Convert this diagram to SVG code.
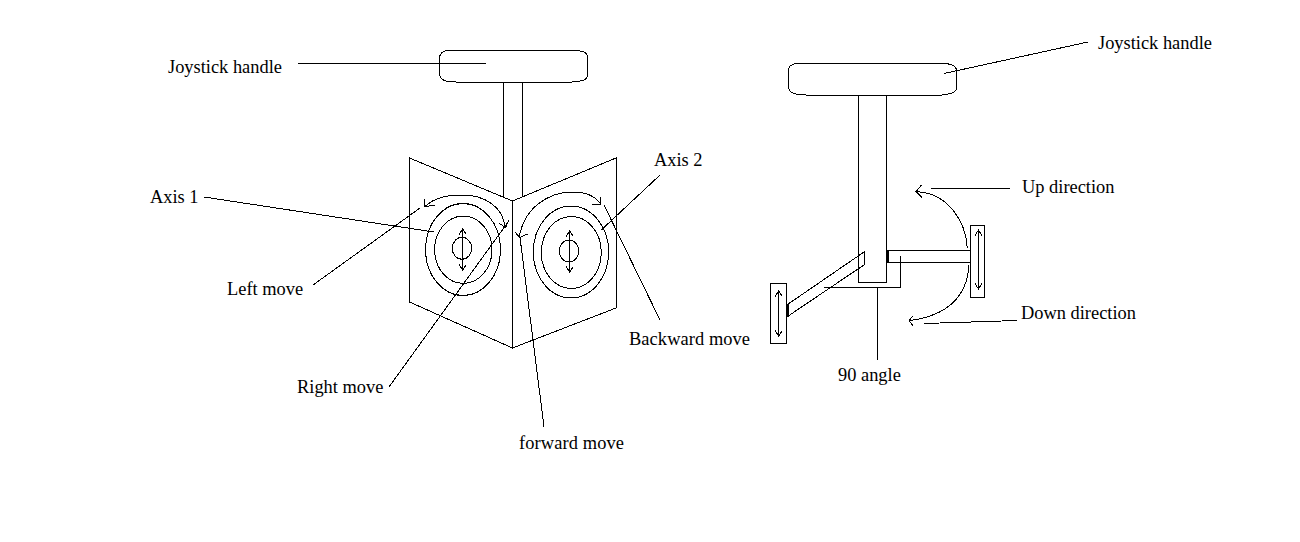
<svg xmlns="http://www.w3.org/2000/svg" width="1300" height="542" viewBox="0 0 1300 542">
<style>
.s{fill:none;stroke:#000;stroke-width:1;shape-rendering:crispEdges}
.p{fill:#fff;stroke:#000;stroke-width:1;shape-rendering:crispEdges}
.t{fill:none;stroke:#000;stroke-width:2;shape-rendering:crispEdges}
text{font-family:"Liberation Serif","Times New Roman",serif;font-size:18.4px;fill:#000}
</style>
<defs>
<marker id="open" viewBox="-8 -5 10 10" refX="0" refY="0" markerWidth="10" markerHeight="10" markerUnits="userSpaceOnUse" orient="auto-start-reverse"><path d="M-5.5,-3.5 L0,0 L-5.5,3.5" fill="none" stroke="#000" stroke-width="1" shape-rendering="crispEdges"/></marker>
</defs>
<rect width="1300" height="542" fill="#fff"/>

<g id="left-stem"><path class="s" d="M503.5,81V198M522.5,81V197"/></g>
<g id="left-handle"><path class="p" d="M447,50.5H576C583,51 587.5,52 587.5,58V75C587.5,80 583,81 572,82H456C445,82 439.5,80 439.5,73V59C439.5,53 442,51 447,50.5Z"/></g>
<g id="left-panel"><path class="s" d="M409.5,158L512.5,201V348L409.5,302Z"/></g>
<g id="right-panel"><path class="s" d="M512.5,201L616,158V308L512.5,348"/></g>
<g id="axis1-dial">
<ellipse class="s" cx="463" cy="249.5" rx="37.5" ry="46"/>
<ellipse class="s" cx="463.3" cy="249.7" rx="28.7" ry="33.7"/>
<ellipse class="s" cx="462" cy="248.3" rx="9.7" ry="11"/>
<path class="s" d="M462.7,229V270" marker-start="url(#open)" marker-end="url(#open)"/>
</g>
<g id="axis2-dial">
<ellipse class="s" cx="571" cy="252" rx="37.7" ry="46"/>
<ellipse class="s" cx="571.3" cy="252.5" rx="30" ry="36"/>
<ellipse class="s" cx="569" cy="251" rx="9.7" ry="11"/>
<path class="s" d="M569.7,231V272" marker-start="url(#open)" marker-end="url(#open)"/>
</g>
<g id="axis1-rotation"><path class="s" d="M425.7,206C434,198 448,195 462,195C485,195 503,207 505,227"/><path class="s" d="M424.7,198.5L425,206.7L435,205M499.5,223.5L505.5,227.5L509,220"/></g>
<g id="axis2-rotation"><path class="s" d="M519.3,237C524,208 548,192 573,192C585,192 595,196 600.7,204"/><path class="s" d="M515,232L519.5,237.5L527.5,234M592,205L600.7,204.3L600,197"/></g>

<g id="right-stem"><path class="s" d="M858.5,95V282.5H886.5V95"/></g>
<g id="right-handle"><path class="p" d="M796,63.5H946C953,64.5 956.5,66 956.5,71V88C956.5,92 952,94 942,95H806C795,95 788.5,92 788.5,87V71C788.5,66 791,64.5 796,63.5Z"/></g>
<g id="back-arm"><path class="s" d="M887,250.5H970.5M887,262.5H970.5"/><path class="t" d="M887.5,250V262.5"/></g>
<g id="back-plate"><rect class="s" x="970.5" y="225.5" width="14" height="72"/><path class="s" d="M978.5,230V289" marker-start="url(#open)" marker-end="url(#open)"/></g>
<g id="front-arm"><path class="s" d="M787.5,304.5L864.7,251.5L864.3,264.7L787.5,316.5"/><path class="t" d="M787.5,304V317"/></g>
<g id="front-plate"><rect class="s" x="770.5" y="283.5" width="16" height="60"/><path class="s" d="M778.7,291V336" marker-start="url(#open)" marker-end="url(#open)"/></g>
<g id="up-arc"><path class="s" d="M967.3,248C966,222 948,193 917,191.7"/><path class="s" d="M921.5,185L916,191.7L922,197.5"/></g>
<g id="down-arc"><path class="s" d="M969,265C967,298 945,316 909,320.7"/><path class="s" d="M912.7,316L909,320.7L912.7,325.5"/></g>

<g id="connectors">
<path class="s" d="M298,63.5H486"/>
<path class="s" d="M944,73.5L1088,42"/>
<path class="s" d="M204,197L434,232"/>
<path class="s" d="M313,285L420,208"/>
<path class="s" d="M389,387L509,220.7"/>
<path class="s" d="M544,427L520,237.5"/>
<path class="s" d="M660,320L604,205"/>
<path class="s" d="M660,175L601.3,230"/>
<path class="s" d="M824,287.5H900.5V256"/>
<path class="s" d="M877.5,287.5V360"/>
<path class="s" d="M931,188.5H1010"/>
<path class="s" d="M924,323.5L971,322L1017,320.5"/>
</g>

<g id="label-handle-left"><text x="168" y="73">Joystick handle</text></g>
<g id="label-axis1"><text x="150" y="203">Axis 1</text></g>
<g id="label-left-move"><text x="227" y="295">Left move</text></g>
<g id="label-right-move"><text x="297" y="393">Right move</text></g>
<g id="label-forward"><text x="519" y="449" textLength="105">forward move</text></g>
<g id="label-backward"><text x="629" y="345" textLength="121">Backward move</text></g>
<g id="label-axis2"><text x="654" y="166">Axis 2</text></g>
<g id="label-angle"><text x="838" y="381">90 angle</text></g>
<g id="label-handle-right"><text x="1098" y="49">Joystick handle</text></g>
<g id="label-up"><text x="1022" y="193">Up direction</text></g>
<g id="label-down"><text x="1021" y="319">Down direction</text></g>
</svg>
